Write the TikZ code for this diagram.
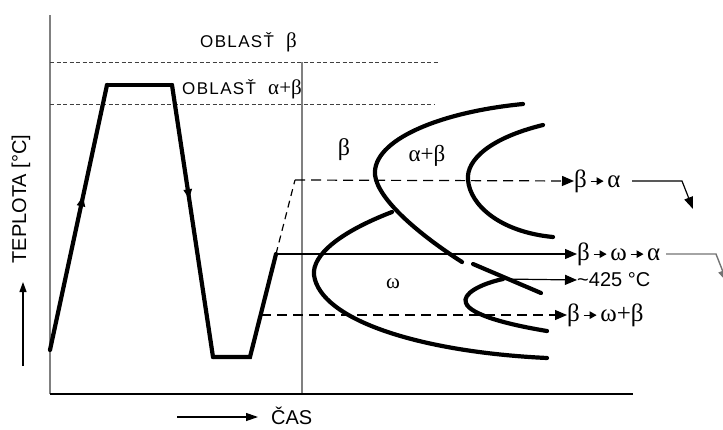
\documentclass[tikz,border=0pt]{standalone}
\usepackage{fontspec}
\setmainfont{Liberation Sans}
\newfontfamily\gr{Liberation Serif}
\newfontfamily\spaced[LetterSpace=8]{Liberation Sans}
\usetikzlibrary{arrows.meta,decorations.markings}
\newcommand{\sar}{\,\tikz[baseline={(0pt,-6pt)}]\draw[line width=1.1pt,-{Triangle[length=7pt,width=7.5pt]}](0pt,0pt)--(13pt,0pt);\,}
\newcommand{\G}[1]{{\gr\fontsize{25}{26}\selectfont #1}}
\tikzset{
  thick line/.style={line width=4.2pt,line cap=round},
  thin line/.style={line width=1.2pt},
  gray line/.style={line width=1.4pt,draw=black!50},
  fine dash/.style={line width=1pt,dash pattern=on 4pt off 2.5pt,draw=black!75},
  long dash/.style={line width=1.2pt,dash pattern=on 10pt off 6pt},
  tip/.style={-{Triangle[length=12pt,width=10pt]}},
  lbl/.style={inner sep=0pt,anchor=west,font=\fontsize{19}{22}\selectfont},
  midarrow/.style={postaction={decorate},decoration={markings,mark=at position #1 with {\arrow{Triangle[length=10pt,width=8pt]}}}}
}
\begin{document}
\begin{tikzpicture}[x=1pt,y=-1pt]
\useasboundingbox (0,0) rectangle (723,429);
% axes
\coordinate (O) at (50,394);
\coordinate (Ytop) at (50,15);
\coordinate (Xend) at (633,394);
\coordinate (Vtop) at (302,62);
\coordinate (Vbot) at (302,394);
\draw[gray line] (Ytop) -- (O);
\draw[gray line] (Vtop) -- (Vbot);
\draw[line width=1.2pt] (O) -- (Xend);
% region lines
\coordinate (D1a) at (50,62); \coordinate (D1b) at (438,62);
\coordinate (D2a) at (50,104); \coordinate (D2b) at (435,104);
\draw[fine dash] (D1a) -- (D1b);
\draw[fine dash] (D2a) -- (D2b);
\node[inner sep=0pt,anchor=west,font=\spaced\fontsize{17}{18}\selectfont] (ob) at (200,42) {OBLASŤ\ \ {\gr\fontsize{21}{18}\selectfont β}};
\node[inner sep=0pt,anchor=west,font=\spaced\fontsize{17}{18}\selectfont] (oab) at (182,89) {OBLASŤ\ \ {\gr\fontsize{21}{18}\selectfont α+β}};
% thermal path
\coordinate (T0) at (50,350);
\coordinate (T1) at (107,85);
\coordinate (T2) at (172,85);
\coordinate (T3) at (213,357);
\coordinate (T4) at (250,357);
\coordinate (T5) at (276,254);
\coordinate (T6) at (295,180);
\coordinate (T7) at (261,315);
\draw[thick line,midarrow=0.58] (T0) -- (T1);
\draw[thick line] (T1) -- (T2);
\draw[thick line,midarrow=0.42] (T2) -- (T3);
\draw[thick line] (T3) -- (T4) -- (T5);
\draw[thin line,dash pattern=on 7pt off 5pt] (T5) -- (T6);
% transformation curves
\draw[thick line] (523,104) .. controls (440,112) and (372,140) .. (375,175)
  .. controls (378,200) and (420,235) .. (462,262);
\draw[thick line] (473,264) -- (541,293);
\draw[thick line] (543,125) .. controls (490,138) and (466,160) .. (468,180)
  .. controls (470,205) and (500,232) .. (553,237);
\draw[thick line] (392,212) .. controls (340,232) and (312,255) .. (314,275)
  .. controls (320,320) and (420,352) .. (547,358);
\draw[thick line] (503,279) .. controls (480,284) and (462,294) .. (466,303)
  .. controls (470,315) and (510,325) .. (547,331);
% region labels
\node[inner sep=0pt,font=\gr\fontsize{24}{24}\selectfont] (lb) at (344,150) {β};
\node[inner sep=0pt,font=\gr\fontsize{23}{24}\selectfont] (lab) at (427,156) {α+β};
\node[inner sep=0pt,font=\gr\fontsize{21}{24}\selectfont] (lw) at (393,284) {ω};
% arrows and outcome labels
\node[lbl] (r1) at (574,181) {\G{β}\sar\G{α}};
\node[lbl] (r2) at (577,254) {\G{β}\sar\G{ω}\sar\G{α}};
\node[lbl] (r3) at (577,280) {\fontsize{20}{22}\selectfont\textasciitilde 425 °C};
\node[lbl] (r4) at (567,315) {\G{β}\sar\G{ω+β}};
\coordinate (J) at (503,279);
\draw[long dash,tip] (T6) -- (r1.west);
\draw[thin line,tip] (T5) -- (r2.west);
\draw[thin line,tip] (J) -- (r3.west);
\draw[long dash,tip] (T7) -- (r4.west);
\coordinate (e1a) at (632,181); \coordinate (e1b) at (682,181); \coordinate (e1c) at (693,209);
\draw[thin line,-{Triangle[length=12pt,width=9pt]}] (e1a) -- (e1b) -- (e1c);
\coordinate (e2a) at (666,254); \coordinate (e2b) at (716,254); \coordinate (e2c) at (727,282);
\draw[gray line,draw=black!55,-{Triangle[length=12pt,width=9pt]}] (e2a) -- (e2b) -- (e2c);
% axis labels
\node[inner sep=0pt,rotate=90,font=\fontsize{20}{22}\selectfont] (ylab) at (21,199) {TEPLOTA [°C]};
\coordinate (ya) at (23,366); \coordinate (yb) at (23,282);
\draw[thin line,-{Triangle[length=10pt,width=7pt]}] (ya) -- (yb);
\coordinate (xa) at (177,417); \coordinate (xb) at (258,417);
\draw[thin line,-{Triangle[length=12pt,width=8pt]}] (xa) -- (xb);
\node[inner sep=0pt,anchor=west,font=\fontsize{20}{22}\selectfont] (xlab) at (271,416) {ČAS};
\end{tikzpicture}
\end{document}
